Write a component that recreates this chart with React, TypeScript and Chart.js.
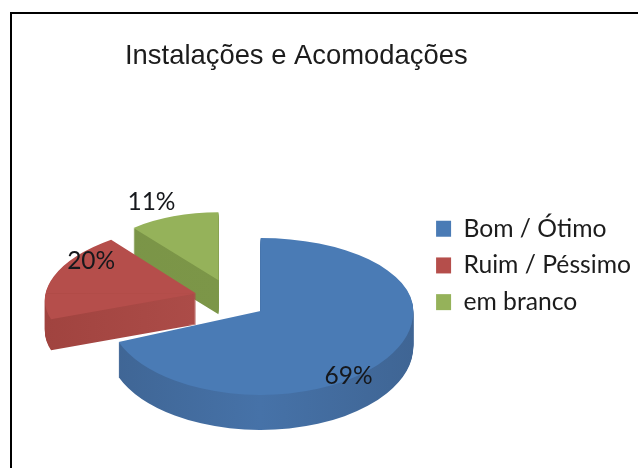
import React, { useEffect, useRef } from "react";
import { Chart, registerables } from "chart.js";

Chart.register(...registerables);

const categories = ["Bom / Ótimo", "Ruim / Péssimo", "em branco"];
const values = [69, 20, 11];
const valueLabels = ["69%", "20%", "11%"];
const topColors = ["#4A7BB5", "#B54E4B", "#95B25A"];
const sideDark = ["#3F6594", "#A0433F", "#7A9447"];
const sideMid = ["#4672A8", "#AC4C48", "#7C9648"];

const RADIUS = 152;
const CENTER_X = 231;
const CENTER_Y = 298;
const EXPLODE = 37;
const TILT_RY = 73;
const BACK_RY = [73, 70, 68];
const FRONT_RY = [84, 70, 68];
const SCALE_X = [1.005, 0.99, 0.877];
const SKEW_X = [0, -0.093, 0];
const DEPTH = [35, 31, 34];
const NUDGE_X = [-1, 1, 0];
const NUDGE_Y = [3, 0, -1];
const LABEL_SHIFT = [[88, 65], [-105, -32], [-67, -78]];

const pie3d = {
  id: "pie3d",
  beforeDatasetsDraw(chart: any) {
    const { ctx } = chart;
    const arcs = chart.getDatasetMeta(0).data;
    const apex = (arc: any, i: number) => {
      const mid = (arc.startAngle + arc.endAngle) / 2;
      return {
        dx: Math.cos(mid) * EXPLODE + NUDGE_X[i],
        dy: Math.sin(mid) * EXPLODE * (TILT_RY / RADIUS) + NUDGE_Y[i],
      };
    };
    const paint = (arc: any, i: number, lift: number, fill: any) => {
      const a = apex(arc, i);
      const ax = CENTER_X + a.dx;
      const ay = CENTER_Y + a.dy + lift;
      const part = (top: boolean) => {
        ctx.save();
        ctx.beginPath();
        if (top) ctx.rect(0, 0, chart.width, ay);
        else ctx.rect(0, ay, chart.width, chart.height - ay);
        ctx.clip();
        ctx.translate(ax, ay);
        ctx.transform(SCALE_X[i], 0, SKEW_X[i], (top ? BACK_RY[i] : FRONT_RY[i]) / RADIUS, 0, 0);
        ctx.translate(-arc.x, -arc.y);
        const fillStyle = typeof fill === "function" ? fill(arc) : fill;
        const clone = Object.create(arc);
        clone.options = { ...arc.options, backgroundColor: fillStyle, borderWidth: 0 };
        clone.draw(ctx);
        ctx.restore();
      };
      part(true);
      part(false);
    };
    [2, 1, 0].forEach((i) => {
      const arc = arcs[i];
      const side = (el: any) => {
        const g = ctx.createLinearGradient(el.x - RADIUS, 0, el.x + RADIUS, 0);
        g.addColorStop(0, sideDark[i]);
        g.addColorStop(0.5, sideMid[i]);
        g.addColorStop(1, sideDark[i]);
        return g;
      };
      for (let d = DEPTH[i]; d >= 1; d--) paint(arc, i, d, side);
      paint(arc, i, 0, topColors[i]);
    });
    ctx.save();
    ctx.font = "24.5px Lato";
    ctx.fillStyle = "#16181c";
    ctx.textAlign = "center";
    ctx.textBaseline = "middle";
    arcs.forEach((arc: any, i: number) => {
      const a = apex(arc, i);
      ctx.fillText(
        valueLabels[i],
        CENTER_X + a.dx + LABEL_SHIFT[i][0],
        CENTER_Y + a.dy + LABEL_SHIFT[i][1]
      );
    });
    ctx.restore();
    return false;
  },
};

export default function App() {
  const ref = useRef<HTMLCanvasElement>(null);
  useEffect(() => {
    const chart = new Chart(ref.current!, {
      type: "pie",
      data: {
        labels: categories,
        datasets: [{ data: values, backgroundColor: topColors, borderWidth: 0 }],
      },
      plugins: [pie3d],
      options: {
        animation: false,
        responsive: false,
        radius: RADIUS,
        layout: { padding: { left: 125, right: 0, top: 0, bottom: 10 } },
        plugins: {
          title: {
            display: true,
            text: "Instalações e Acomodações",
            align: "start",
            color: "#1c1c1c",
            font: { family: "'Liberation Sans'", size: 27.4, weight: "normal" },
            padding: { top: 40, bottom: 0 },
          },
          legend: {
            position: "right",
            fullSize: false,
            labels: {
              boxWidth: 15,
              boxHeight: 16,
              padding: 12,
              color: "#1c1c1c",
              font: { family: "Lato", size: 24.7 },
            },
          },
          tooltip: { enabled: false },
        },
      } as any,
    });
    return () => chart.destroy();
  }, []);
  return (
    <div style={{ position: "fixed", left: 0, top: 0, width: 638, height: 468, overflow: "hidden", background: "#fff" }}>
      <canvas ref={ref} width={641} height={468} style={{ position: "absolute", left: 0, top: 0 }} />
      <div style={{ position: "absolute", left: 10, top: 12, right: 0, bottom: 0, borderLeft: "2px solid #000", borderTop: "2px solid #000" }} />
    </div>
  );
}
